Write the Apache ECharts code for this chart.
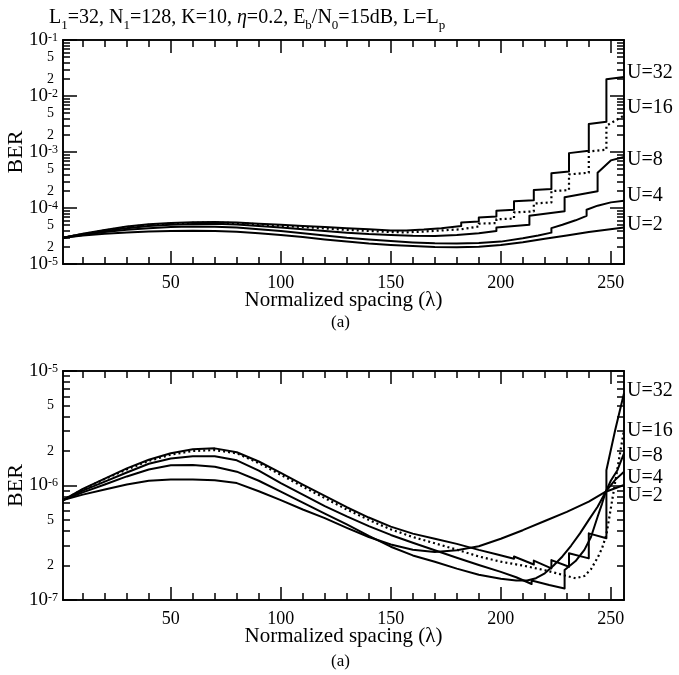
<!DOCTYPE html>
<html><head><meta charset="utf-8">
<script src="https://cdn.jsdelivr.net/npm/echarts@6/dist/echarts.min.js"></script>
<style>html,body{margin:0;padding:0;background:#fff}#c{width:679px;height:675px}</style>
</head><body><div id="c"></div>
<script>
// ---- tick definitions ----
const xMajorTicks = [50, 100, 150, 200, 250];
const xMinorTicks = [10,20,30,40,60,70,80,90,110,120,130,140,160,170,180,190,210,220,230,240];
const topDecades = [1e-5, 1e-4, 1e-3, 1e-2, 1e-1];
const topLabelValues = [1e-5,2e-5,5e-5,1e-4,2e-4,5e-4,1e-3,2e-3,5e-3,1e-2,2e-2,5e-2,1e-1];
const topMinorTicks = [2e-5,3e-5,4e-5,5e-5,6e-5,7e-5,8e-5,9e-5,2e-4,3e-4,4e-4,5e-4,6e-4,7e-4,8e-4,9e-4,
  2e-3,3e-3,4e-3,5e-3,6e-3,7e-3,8e-3,9e-3,2e-2,3e-2,4e-2,5e-2,6e-2,7e-2,8e-2,9e-2];
const botDecades = [1e-7, 1e-6, 1e-5];
const botLabelValues = [1e-7,2e-7,5e-7,1e-6,2e-6,5e-6,1e-5];
const botMinorTicks = [2e-7,3e-7,4e-7,5e-7,6e-7,7e-7,8e-7,9e-7,2e-6,3e-6,4e-6,5e-6,6e-6,7e-6,8e-6,9e-6];
const seriesNames = ['U=32','U=16','U=8','U=4','U=2'];

// ---- top panel data: [lambda, BER] ----
const topU32 = [[1,2.95e-5],[10,3.47e-5],[20,4.07e-5],[30,4.68e-5],[40,5.13e-5],[50,5.37e-5],[60,5.56e-5],[70,5.62e-5],[80,5.50e-5],[90,5.25e-5],[100,5.01e-5],[110,4.79e-5],[120,4.57e-5],[130,4.37e-5],[140,4.17e-5],[150,3.98e-5],
  [157,3.98e-5],[157,4.07e-5],[165,4.12e-5],[165,4.32e-5],[173,4.37e-5],[173,4.68e-5],[182,4.79e-5],[182,5.50e-5],[190,5.75e-5],[190,6.76e-5],[198,7.08e-5],[198,8.91e-5],[206,9.33e-5],[206,1.32e-4],[215,1.38e-4],[215,2.09e-4],[223,2.19e-4],[223,4.17e-4],[231,4.47e-4],[231,9.55e-4],[240,1.05e-3],[240,3.16e-3],[248,3.47e-3],[248,2.0e-2],[256,2.19e-2]];
const topU16 = [[1,2.95e-5],[10,3.43e-5],[20,3.98e-5],[30,4.57e-5],[40,5.01e-5],[50,5.25e-5],[60,5.43e-5],[70,5.50e-5],[80,5.37e-5],[90,5.13e-5],[100,4.79e-5],[110,4.57e-5],[120,4.32e-5],[130,4.07e-5],[140,3.89e-5],[150,3.72e-5],
  [157,3.67e-5],[157,3.76e-5],[165,3.80e-5],[165,3.89e-5],[173,3.98e-5],[173,4.07e-5],[182,4.17e-5],[182,4.47e-5],[190,4.68e-5],[190,5.25e-5],[198,5.37e-5],[198,6.31e-5],[206,6.46e-5],[206,8.32e-5],[215,8.71e-5],[215,1.20e-4],[223,1.26e-4],[223,2.0e-4],[231,2.09e-4],[231,3.98e-4],[240,4.27e-4],[240,1.02e-3],[248,1.10e-3],[248,2.95e-3],[256,4.47e-3]];
const topU8 = [[1,2.95e-5],[10,3.39e-5],[20,3.89e-5],[30,4.37e-5],[40,4.79e-5],[50,5.01e-5],[60,5.19e-5],[70,5.25e-5],[80,5.07e-5],[90,4.79e-5],[100,4.47e-5],[110,4.17e-5],[120,3.89e-5],[130,3.63e-5],[140,3.43e-5],[150,3.31e-5],[160,3.20e-5],[170,3.16e-5],[180,3.31e-5],[190,3.55e-5],
  [198,3.89e-5],[198,4.47e-5],[213,5.01e-5],[213,7.24e-5],[229,8.71e-5],[229,1.55e-4],[244,2.0e-4],[244,4.27e-4],[250,7.08e-4],[256,8.13e-4]];
const topU4 = [[1,2.95e-5],[10,3.31e-5],[20,3.72e-5],[30,4.07e-5],[40,4.37e-5],[50,4.57e-5],[60,4.68e-5],[70,4.62e-5],[80,4.47e-5],[90,4.17e-5],[100,3.89e-5],[110,3.55e-5],[120,3.24e-5],[130,2.95e-5],[140,2.75e-5],[150,2.57e-5],[160,2.43e-5],[170,2.34e-5],[180,2.32e-5],[190,2.37e-5],[200,2.51e-5],[210,2.88e-5],[217,3.24e-5],
  [223,3.63e-5],[223,4.37e-5],[228,5.01e-5],[234,6.03e-5],[239,7.24e-5],[239,9.33e-5],[244,1.10e-4],[250,1.26e-4],[256,1.35e-4]];
const topU2 = [[1,2.95e-5],[10,3.24e-5],[20,3.47e-5],[30,3.67e-5],[40,3.80e-5],[50,3.89e-5],[60,3.94e-5],[70,3.89e-5],[80,3.76e-5],[90,3.55e-5],[100,3.31e-5],[110,3.02e-5],[120,2.75e-5],[130,2.51e-5],[140,2.32e-5],[150,2.19e-5],[160,2.09e-5],[170,2.02e-5],[180,2.0e-5],[190,2.04e-5],[200,2.19e-5],[210,2.45e-5],[220,2.82e-5],[230,3.24e-5],[240,3.72e-5],[248,4.07e-5],[256,4.47e-5]];

// ---- bottom panel data ----
const botU32 = [[1,7.46e-7],[10,9.33e-7],[20,1.15e-6],[30,1.41e-6],[40,1.68e-6],[50,1.91e-6],[60,2.07e-6],[70,2.11e-6],[80,1.95e-6],[90,1.62e-6],[100,1.29e-6],[110,1.02e-6],[120,8.13e-7],[130,6.46e-7],[140,5.25e-7],[150,4.37e-7],[160,3.80e-7],[170,3.43e-7],[180,3.09e-7],[190,2.74e-7],
  [198,2.51e-7],[198,2.60e-7],[206,2.29e-7],[206,2.40e-7],[215,2.04e-7],[215,2.21e-7],[223,1.89e-7],[223,2.23e-7],[231,1.95e-7],[231,2.56e-7],[240,2.31e-7],[240,3.82e-7],[248,3.46e-7],[248,1.36e-6],[252,3.05e-6],[256,6.38e-6]];
const botU16 = [[1,7.46e-7],[10,9.23e-7],[20,1.14e-6],[30,1.38e-6],[40,1.64e-6],[50,1.86e-6],[60,2.0e-6],[70,2.04e-6],[80,1.91e-6],[90,1.57e-6],[100,1.24e-6],[110,9.77e-7],[120,7.76e-7],[130,6.17e-7],[140,5.01e-7],[150,4.14e-7],[160,3.55e-7],[170,3.13e-7],[180,2.75e-7],[190,2.40e-7],[200,2.16e-7],[210,2.0e-7],[220,1.82e-7],[228,1.66e-7],[234,1.55e-7],[238,1.62e-7],[241,1.86e-7],[244,2.34e-7],[246,2.82e-7],[248,3.72e-7],[250,6.31e-7],[252,1.07e-6],[254,1.82e-6],[256,3.05e-6]];
const botU8 = [[1,7.46e-7],[10,9.02e-7],[20,1.08e-6],[30,1.30e-6],[40,1.55e-6],[50,1.72e-6],[60,1.80e-6],[70,1.80e-6],[80,1.66e-6],[90,1.35e-6],[100,1.05e-6],[110,8.32e-7],[120,6.61e-7],[130,5.37e-7],[140,4.42e-7],[150,3.70e-7],[160,3.16e-7],[170,2.72e-7],[180,2.34e-7],[190,2.02e-7],[200,1.76e-7],[207,1.58e-7],
  [214,1.38e-7],[214,1.48e-7],[222,1.35e-7],[229,1.26e-7],[229,1.83e-7],[234,2.19e-7],[238,2.74e-7],[241,3.55e-7],[244,5.33e-7],[246,6.92e-7],[247.7,8.83e-7],[250,1.10e-6],[253,1.36e-6],[256,1.91e-6]];
const botU4 = [[1,7.46e-7],[10,8.71e-7],[20,1.02e-6],[30,1.20e-6],[40,1.38e-6],[50,1.50e-6],[60,1.51e-6],[70,1.46e-6],[80,1.32e-6],[90,1.10e-6],[100,8.83e-7],[110,7.08e-7],[120,5.69e-7],[130,4.57e-7],[140,3.63e-7],[150,2.92e-7],[160,2.45e-7],[170,2.16e-7],[180,1.88e-7],[190,1.66e-7],[200,1.53e-7],[207,1.48e-7],[212,1.48e-7],[216,1.55e-7],[220,1.71e-7],[224,2.0e-7],[228,2.40e-7],[232,2.99e-7],[236,3.82e-7],[240,5.01e-7],[244,6.53e-7],[247.7,8.83e-7],[252,1.12e-6],[256,1.32e-6]];
const botU2 = [[1,7.46e-7],[10,8.32e-7],[20,9.23e-7],[30,1.02e-6],[40,1.10e-6],[50,1.13e-6],[60,1.13e-6],[70,1.11e-6],[80,1.05e-6],[90,8.91e-7],[100,7.46e-7],[110,6.17e-7],[120,5.19e-7],[130,4.27e-7],[140,3.55e-7],[150,3.05e-7],[160,2.75e-7],[170,2.63e-7],[180,2.72e-7],[190,2.95e-7],[200,3.43e-7],[210,4.07e-7],[220,4.90e-7],[230,5.89e-7],[240,7.24e-7],[247.7,8.83e-7],[256,1.01e-6]];

const FONT = 'Liberation Serif';
const BLACK = '#000';

function yLabelFmt(v) {
  const lg = Math.log10(v);
  const e = Math.round(lg);
  if (Math.abs(lg - e) < 1e-6) return '{b|10}{s|' + e + '}';
  const m = Math.round(v / Math.pow(10, Math.floor(lg + 1e-9)));
  return '{m|' + m + '}';
}
const yRich = {
  b: {fontFamily: FONT, fontSize: 19, color: BLACK, lineHeight: 17},
  s: {fontFamily: FONT, fontSize: 12, color: BLACK, lineHeight: 10, verticalAlign: 'top'},
  m: {fontFamily: FONT, fontSize: 14, color: BLACK, lineHeight: 11, padding: [0, 4, 0, 0]}
};

function xAx(grid, pos, ticks, len, withLabels) {
  const a = {
    type: 'value', gridIndex: grid, position: pos, min: 1, max: 256,
    axisLine: {show: true, onZero: false, lineStyle: {color: BLACK, width: 1.6}},
    axisTick: {show: true, inside: true, length: len, customValues: ticks, lineStyle: {color: BLACK, width: 1.5}},
    axisLabel: {show: false},
    splitLine: {show: false}
  };
  if (withLabels) {
    a.axisLabel = {show: true, customValues: xMajorTicks, margin: 10, fontFamily: FONT, fontSize: 18, color: BLACK};
    a.name = 'Normalized spacing (\u03bb)';
    a.nameLocation = 'middle';
    a.nameGap = 26;
    a.nameMoveOverlap = false;
    a.nameTextStyle = {fontFamily: FONT, fontSize: 21, color: BLACK};
  }
  return a;
}
function yAx(grid, pos, minV, maxV, ticks, len, labels) {
  const a = {
    type: 'log', logBase: 10, gridIndex: grid, position: pos, min: minV, max: maxV,
    axisLine: {show: true, onZero: false, lineStyle: {color: BLACK, width: 1.6}},
    axisTick: {show: true, inside: true, length: len, customValues: ticks, lineStyle: {color: BLACK, width: 1.5}},
    axisLabel: {show: false},
    splitLine: {show: false}
  };
  if (labels) {
    a.axisLabel = {show: true, customValues: labels, margin: 5, formatter: yLabelFmt, rich: yRich,
      showMinLabel: true, showMaxLabel: true, hideOverlap: false};
    a.name = 'BER';
    a.nameLocation = 'middle';
    a.nameGap = 36;
    a.nameMoveOverlap = false;
    a.nameTextStyle = {fontFamily: FONT, fontSize: 22, color: BLACK};
  }
  return a;
}

const xAxes = [
  xAx(0, 'bottom', xMajorTicks, 13, true), xAx(0, 'bottom', xMinorTicks, 7, false),
  xAx(0, 'top', xMajorTicks, 13, false), xAx(0, 'top', xMinorTicks, 7, false),
  xAx(1, 'bottom', xMajorTicks, 13, true), xAx(1, 'bottom', xMinorTicks, 7, false),
  xAx(1, 'top', xMajorTicks, 13, false), xAx(1, 'top', xMinorTicks, 7, false)
];
const yAxes = [
  yAx(0, 'left', 1e-5, 1e-1, topDecades, 14, topLabelValues), yAx(0, 'left', 1e-5, 1e-1, topMinorTicks, 7, null),
  yAx(0, 'right', 1e-5, 1e-1, topDecades, 14, null), yAx(0, 'right', 1e-5, 1e-1, topMinorTicks, 7, null),
  yAx(1, 'left', 1e-7, 1e-5, botDecades, 14, botLabelValues), yAx(1, 'left', 1e-7, 1e-5, botMinorTicks, 7, null),
  yAx(1, 'right', 1e-7, 1e-5, botDecades, 14, null), yAx(1, 'right', 1e-7, 1e-5, botMinorTicks, 7, null)
];

function mk(name, data, grid, dotted) {
  return {
    name: name, type: 'line', data: data, xAxisIndex: grid * 4, yAxisIndex: grid * 4,
    symbol: 'none', showSymbol: false, animation: false, silent: true,
    lineStyle: {color: BLACK, width: dotted ? 2.2 : 2, type: dotted ? [2, 3] : 'solid', join: 'round'}
  };
}
const topSets = [topU32, topU16, topU8, topU4, topU2];
const botSets = [botU32, botU16, botU8, botU4, botU2];
const series = [];
topSets.forEach((d, i) => series.push(mk(seriesNames[i], d, 0, i === 1)));
botSets.forEach((d, i) => series.push(mk(seriesNames[i], d, 1, i === 1)));

const topLabelY = [75, 110, 162, 198, 227];
const botLabelY = [393, 433, 458, 480, 498];
const graphics = [];
seriesNames.forEach((n, i) => {
  graphics.push({type: 'text', left: 627, top: topLabelY[i] - 12, style: {text: n, fontFamily: FONT, fontSize: 20, fill: BLACK}});
  graphics.push({type: 'text', left: 627, top: botLabelY[i] - 12, style: {text: n, fontFamily: FONT, fontSize: 20, fill: BLACK}});
});
graphics.push({type: 'text', left: 331, top: 314, style: {text: '(a)', fontFamily: FONT, fontSize: 17, fill: BLACK}});
graphics.push({type: 'text', left: 331, top: 653, style: {text: '(a)', fontFamily: FONT, fontSize: 17, fill: BLACK}});

const chart = echarts.init(document.getElementById('c'), null, {renderer: 'canvas'});
chart.setOption({
  backgroundColor: '#fff',
  animation: false,
  title: {
    text: 'L{sub|1}=32, N{sub|1}=128, K=10, {it|\u03b7}=0.2, E{sub|b}/N{sub|0}=15dB, L=L{sub|p}',
    left: 44, top: -1,
    textStyle: {
      fontFamily: FONT, fontSize: 20, fontWeight: 'normal', color: BLACK, lineHeight: 28,
      rich: {
        sub: {fontFamily: FONT, fontSize: 13, color: BLACK, lineHeight: 13, verticalAlign: 'bottom'},
        it: {fontFamily: FONT, fontSize: 20, fontStyle: 'italic', color: BLACK, lineHeight: 28}
      }
    }
  },
  grid: [
    {left: 63, top: 40, right: 55, height: 224, outerBoundsMode: 'none', containLabel: false},
    {left: 63, top: 371, right: 55, height: 229, outerBoundsMode: 'none', containLabel: false}
  ],
  xAxis: xAxes,
  yAxis: yAxes,
  series: series,
  graphic: graphics
});
</script></body></html>
